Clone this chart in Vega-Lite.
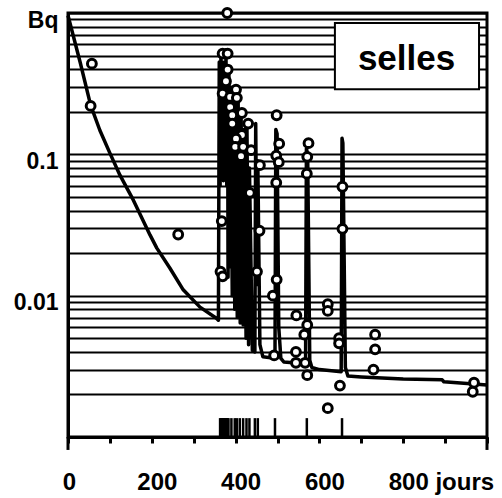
{
  "$schema": "https://vega.github.io/schema/vega-lite/v6.json",
  "width": 419,
  "height": 424,
  "autosize": "none",
  "padding": {"left": 68, "top": 13, "right": 15, "bottom": 61},
  "config": {"view": {"stroke": "#000", "strokeWidth": 3}, "font": "Liberation Sans"},
  "datasets": {
    "curve": [
      {"day": 0, "value": 0.96}, {"day": 29, "value": 0.448}, {"day": 54, "value": 0.223}, {"day": 76, "value": 0.148},
      {"day": 100, "value": 0.102}, {"day": 124, "value": 0.0712}, {"day": 156, "value": 0.0474}, {"day": 196, "value": 0.0268},
      {"day": 212, "value": 0.0217}, {"day": 243, "value": 0.0157}, {"day": 275, "value": 0.011}, {"day": 315, "value": 0.0083},
      {"day": 355, "value": 0.0069}, {"day": 359, "value": 0.0067},
      {"day": 361, "value": 0.45}, {"day": 363, "value": 0.06}, {"day": 365, "value": 0.5}, {"day": 367, "value": 0.07},
      {"day": 369, "value": 0.45}, {"day": 371, "value": 0.065}, {"day": 373, "value": 0.4}, {"day": 375, "value": 0.07},
      {"day": 377, "value": 0.55}, {"day": 379, "value": 0.06}, {"day": 381, "value": 0.35}, {"day": 382, "value": 0.0135},
      {"day": 384, "value": 0.4}, {"day": 386, "value": 0.016}, {"day": 388, "value": 0.3}, {"day": 392, "value": 0.01},
      {"day": 394, "value": 0.28}, {"day": 398, "value": 0.008}, {"day": 400, "value": 0.3}, {"day": 404, "value": 0.007},
      {"day": 406, "value": 0.25}, {"day": 411, "value": 0.0064}, {"day": 413, "value": 0.2}, {"day": 418, "value": 0.0062},
      {"day": 420, "value": 0.15}, {"day": 425, "value": 0.005}, {"day": 427, "value": 0.17}, {"day": 431, "value": 0.0045},
      {"day": 433, "value": 0.08}, {"day": 440, "value": 0.0041}, {"day": 446, "value": 0.004}, {"day": 448, "value": 0.165},
      {"day": 451, "value": 0.012}, {"day": 453, "value": 0.09}, {"day": 458, "value": 0.0045}, {"day": 465, "value": 0.0037},
      {"day": 494, "value": 0.0036}, {"day": 496, "value": 0.15}, {"day": 499, "value": 0.14}, {"day": 503, "value": 0.006},
      {"day": 508, "value": 0.0036}, {"day": 515, "value": 0.0034}, {"day": 567, "value": 0.0033}, {"day": 569, "value": 0.11},
      {"day": 572, "value": 0.1}, {"day": 577, "value": 0.0035}, {"day": 582, "value": 0.0031}, {"day": 600, "value": 0.003},
      {"day": 652, "value": 0.0029}, {"day": 654, "value": 0.13}, {"day": 656, "value": 0.12}, {"day": 662, "value": 0.0031},
      {"day": 668, "value": 0.0027}, {"day": 700, "value": 0.00266}, {"day": 800, "value": 0.00257}, {"day": 893, "value": 0.00254},
      {"day": 897, "value": 0.00246}, {"day": 1000, "value": 0.00233}
    ],
    "obs": [
      {"day": 57, "value": 0.438}, {"day": 54, "value": 0.22}, {"day": 263, "value": 0.0271}, {"day": 380, "value": 1.0},
      {"day": 369, "value": 0.516}, {"day": 381, "value": 0.516}, {"day": 381, "value": 0.398}, {"day": 377, "value": 0.329},
      {"day": 369, "value": 0.269}, {"day": 387, "value": 0.255}, {"day": 401, "value": 0.287}, {"day": 403, "value": 0.251},
      {"day": 387, "value": 0.216}, {"day": 415, "value": 0.196}, {"day": 392, "value": 0.189}, {"day": 392, "value": 0.165},
      {"day": 430, "value": 0.165}, {"day": 415, "value": 0.137}, {"day": 401, "value": 0.129}, {"day": 399, "value": 0.113},
      {"day": 418, "value": 0.113}, {"day": 413, "value": 0.097}, {"day": 437, "value": 0.107}, {"day": 434, "value": 0.0534},
      {"day": 367, "value": 0.0337}, {"day": 458, "value": 0.0838}, {"day": 498, "value": 0.189}, {"day": 504, "value": 0.119},
      {"day": 497, "value": 0.098}, {"day": 503, "value": 0.088}, {"day": 497, "value": 0.063}, {"day": 574, "value": 0.12},
      {"day": 571, "value": 0.096}, {"day": 570, "value": 0.073}, {"day": 655, "value": 0.059}, {"day": 655, "value": 0.0297},
      {"day": 457, "value": 0.0288}, {"day": 364, "value": 0.0148}, {"day": 369, "value": 0.0137}, {"day": 451, "value": 0.0148},
      {"day": 498, "value": 0.013}, {"day": 489, "value": 0.01}, {"day": 545, "value": 0.00725}, {"day": 571, "value": 0.0062},
      {"day": 620, "value": 0.0087}, {"day": 620, "value": 0.0078}, {"day": 564, "value": 0.0053}, {"day": 544, "value": 0.004},
      {"day": 544, "value": 0.00335}, {"day": 566, "value": 0.00335}, {"day": 571, "value": 0.00274}, {"day": 492, "value": 0.00378},
      {"day": 647, "value": 0.005}, {"day": 647, "value": 0.0046}, {"day": 649, "value": 0.00231}, {"day": 620, "value": 0.0016},
      {"day": 733, "value": 0.0053}, {"day": 733, "value": 0.00417}, {"day": 729, "value": 0.003}, {"day": 969, "value": 0.00242},
      {"day": 966, "value": 0.00209}
    ],
    "intakes": [
      {"day": 363}, {"day": 365}, {"day": 367}, {"day": 369}, {"day": 371}, {"day": 373}, {"day": 375}, {"day": 377},
      {"day": 379}, {"day": 381}, {"day": 383}, {"day": 390}, {"day": 398}, {"day": 403}, {"day": 410}, {"day": 418},
      {"day": 426}, {"day": 433}, {"day": 446}, {"day": 453}, {"day": 494}, {"day": 570}, {"day": 654}
    ],
    "frame": [{"edge": 0}, {"edge": 1000}]
  },
  "layer": [
    {
      "data": {"name": "curve"},
      "mark": {"type": "line", "color": "#000", "strokeWidth": 3.5, "strokeJoin": "round"},
      "encoding": {
        "x": {
          "field": "day", "type": "quantitative",
          "scale": {"domain": [0, 1000], "nice": false, "zero": false},
          "axis": {
            "values": [0, 100, 200, 300, 400, 500, 600, 700, 800, 900, 1000],
            "labelExpr": "datum.value == 800 ? '800 jours' : ((datum.value % 200 == 0 && datum.value < 1000) ? datum.label : '')",
            "title": null, "grid": false,
            "tickColor": "#000", "tickWidth": 3, "tickSize": 6,
            "domainColor": "#000", "domainWidth": 3,
            "labelFont": "Liberation Sans", "labelFontWeight": "bold", "labelFontSize": 24, "labelColor": "#000",
            "labelPadding": 27,
            "labelOffset": {"condition": [{"test": "datum.value == 800", "value": -15}, {"test": "datum.value == 0", "value": 1}], "value": 5},
            "labelAlign": {"condition": {"test": "datum.value == 800", "value": "left"}, "value": "center"},
            "labelFlush": false, "labelOverlap": false
          }
        },
        "y": {
          "field": "value", "type": "quantitative",
          "scale": {"type": "log", "domain": [0.001, 1], "nice": false},
          "axis": {
            "values": [0.001, 0.002, 0.003, 0.004, 0.005, 0.006, 0.007, 0.008, 0.009, 0.01, 0.02, 0.03, 0.04, 0.05, 0.06, 0.07, 0.08, 0.09, 0.1, 0.2, 0.3, 0.4, 0.5, 0.6, 0.7, 0.8, 0.9, 1],
            "labelExpr": "datum.value == 1 ? 'Bq' : (datum.value == 0.1 ? '0.1' : (datum.value == 0.01 ? '0.01' : ''))",
            "title": null, "ticks": false, "grid": true,
            "gridColor": "#000", "gridWidth": 1.8, "gridOpacity": 1,
            "domainColor": "#000", "domainWidth": 3,
            "labelFont": "Liberation Sans", "labelFontWeight": "bold", "labelFontSize": 23, "labelColor": "#000",
            "labelPadding": 10, "labelOffset": 7, "labelBaseline": "middle",
            "labelFlush": false, "labelOverlap": false
          }
        }
      }
    },
    {
      "data": {"name": "intakes"},
      "mark": {"type": "rule", "color": "#000", "strokeWidth": 2.5},
      "encoding": {
        "x": {"field": "day", "type": "quantitative"},
        "y": {"datum": 0.001, "type": "quantitative"},
        "y2": {"datum": 0.00136}
      }
    },
    {
      "data": {"name": "frame"},
      "mark": {"type": "rule", "color": "#000", "strokeWidth": 3},
      "encoding": {
        "x": {"field": "edge", "type": "quantitative"},
        "y": {"datum": 0.001, "type": "quantitative"},
        "y2": {"datum": 0.00081}
      }
    },
    {
      "data": {"name": "obs"},
      "mark": {"type": "point", "shape": "circle", "filled": true, "fill": "#fff", "stroke": "#000", "strokeWidth": 3, "size": 78, "opacity": 1},
      "encoding": {
        "x": {"field": "day", "type": "quantitative"},
        "y": {"field": "value", "type": "quantitative"}
      }
    },
    {
      "data": {"values": [{"label": "selles"}]},
      "mark": {"type": "rect", "fill": "#fff", "stroke": "#000", "strokeWidth": 2},
      "encoding": {
        "x": {"datum": 637, "type": "quantitative"},
        "x2": {"datum": 981},
        "y": {"datum": 0.85, "type": "quantitative"},
        "y2": {"datum": 0.289}
      }
    },
    {
      "data": {"values": [{"label": "selles"}]},
      "mark": {"type": "text", "font": "Liberation Sans", "fontWeight": "bold", "fontSize": 35, "color": "#000", "align": "center", "baseline": "alphabetic"},
      "encoding": {
        "x": {"datum": 808, "type": "quantitative"},
        "y": {"datum": 0.394, "type": "quantitative"},
        "text": {"field": "label"}
      }
    }
  ]
}
